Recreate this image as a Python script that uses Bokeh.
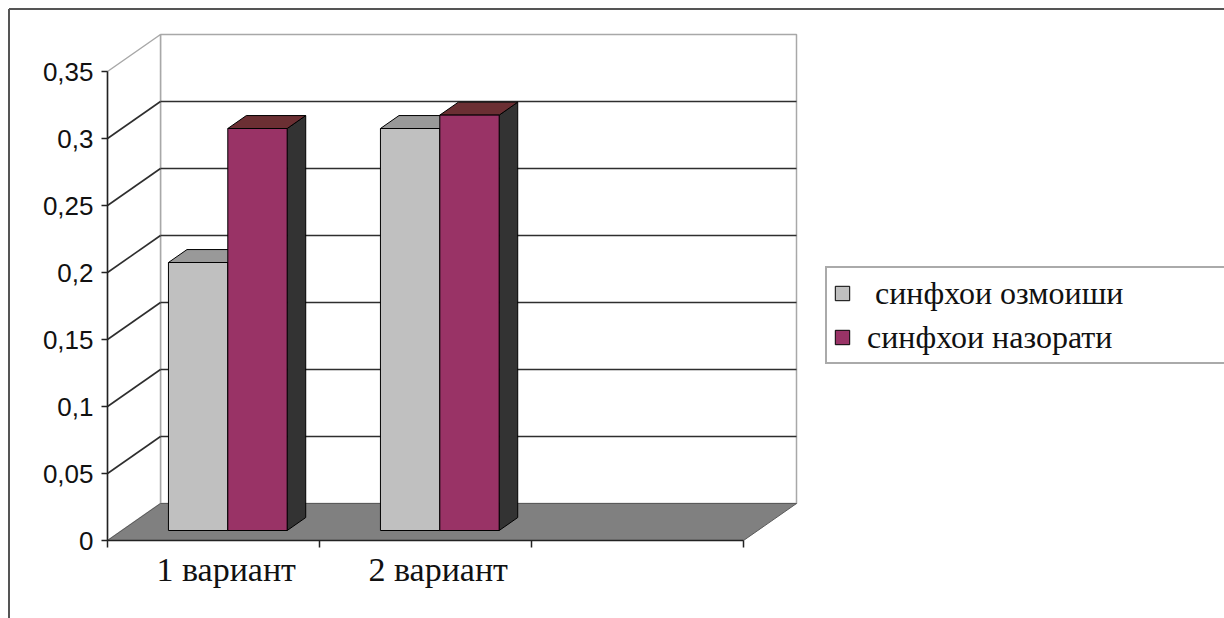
from bokeh.plotting import figure
from bokeh.models import (Range1d, LinearAxis, FixedTicker, CustomJSTickFormatter,
                          Legend, LegendItem)
from bokeh.embed import file_html
from bokeh.resources import INLINE

# ---------------- data ----------------
categories = ["1 вариант", "2 вариант"]
series_names = [" синфхои озмоиши", "синфхои назорати"]
series_a = [0.2, 0.3]
series_b = [0.3, 0.31]
y_ticks = [0, 0.05, 0.1, 0.15, 0.2, 0.25, 0.3, 0.35]
y_tick_labels = ["0", "0,05", "0,1", "0,15", "0,2", "0,25", "0,3", "0,35"]
n_slots = 3  # category slots on the axis (third one empty)

# ---------------- layout / style ----------------
W, H = 1224, 618
PX_C = 212.0          # pixels per category slot
PX_V = 1340.0         # pixels per value unit
AX_X = 107            # px from figure left to the front value axis
AX_Y = 540            # px from figure top to value 0
DX = 53 / PX_C        # depth offset (x) of back wall, in category units
DY = 37 / PX_V        # depth offset (y) of back wall, in value units
BAR_W = 0.28
F0, F1 = 0.27, 0.62   # bar front / back depth fractions
LABEL_SHIFT = 0.56
BORDER = 8            # px inset of the chart-area border

colors_front = ["#C0C0C0", "#993366"]
colors_top = ["#999999", "#6B2F33"]
color_side = "#333333"

xr = Range1d(-AX_X / PX_C, (W - AX_X) / PX_C)
yr = Range1d(-(H - AX_Y) / PX_V, AX_Y / PX_V)

p = figure(width=W, height=H, x_range=xr, y_range=yr,
           x_axis_location=None, y_axis_location=None,
           toolbar_location=None, output_backend="svg",
           min_border=0, min_border_left=0, min_border_right=0,
           min_border_top=0, min_border_bottom=0)
p.outline_line_color = None
p.background_fill_color = "white"
p.border_fill_color = "white"
for g in p.grid:
    g.visible = False

ymax = y_ticks[-1]

# outer chart-area border (left and top edges visible)
bx = xr.start + (BORDER + 0.5) / PX_C
by = yr.end - (BORDER + 0.5) / PX_V
p.segment(x0=[bx, bx], y0=[yr.start, by], x1=[bx, xr.end], y1=[by, by],
          line_color="#555555", line_width=2)

# walls
p.quad(left=[DX], right=[n_slots + DX], bottom=[DY], top=[ymax + DY],
       fill_color="white", line_color="#A8A8A8", line_width=1.5)
p.patch(x=[0, DX, DX, 0], y=[0, DY, ymax + DY, ymax],
        fill_color="white", line_color="#A8A8A8", line_width=1.5)

# gridlines on back and side walls
gv = y_ticks[1:-1]
p.segment(x0=[DX] * len(gv), y0=[v + DY for v in gv],
          x1=[n_slots + DX] * len(gv), y1=[v + DY for v in gv],
          line_color="#2E2E2E", line_width=1.6)
p.segment(x0=[0] * len(gv), y0=gv, x1=[DX] * len(gv), y1=[v + DY for v in gv],
          line_color="#2E2E2E", line_width=1.6)

# floor
p.patch(x=[0, n_slots, n_slots + DX, DX], y=[0, 0, DY, DY],
        fill_color="#808080", line_color="#5A5A5A", line_width=1)

# bars
fronts = []
for s, vals in enumerate([series_a, series_b]):
    ox0, oy0 = F0 * DX, F0 * DY
    ox1, oy1 = F1 * DX, F1 * DY
    left, right, top = [], [], []
    tx, ty, sxs, sys_ = [], [], [], []
    for i, v in enumerate(vals):
        x0 = i + 0.5 - BAR_W + s * BAR_W
        x1 = x0 + BAR_W
        left.append(x0 + ox0)
        right.append(x1 + ox0)
        top.append(v + oy0)
        tx.append([x0 + ox0, x1 + ox0, x1 + ox1, x0 + ox1])
        ty.append([v + oy0, v + oy0, v + oy1, v + oy1])
        sxs.append([x1 + ox0, x1 + ox1, x1 + ox1, x1 + ox0])
        sys_.append([oy0, oy1, v + oy1, v + oy0])
    p.patches(xs=sxs, ys=sys_, fill_color=color_side, line_color="black", line_width=1)
    p.patches(xs=tx, ys=ty, fill_color=colors_top[s], line_color="black", line_width=1)
    r = p.quad(left=left, right=right, bottom=[oy0] * len(vals), top=top,
               fill_color=colors_front[s], line_color="black", line_width=1)
    fronts.append(r)

# value axis
yfmt = CustomJSTickFormatter(args=dict(tvals=y_ticks, tlabels=y_tick_labels), code="""
let best = 0;
for (let j = 1; j < tvals.length; j++) {
  if (Math.abs(tvals[j] - tick) < Math.abs(tvals[best] - tick)) best = j;
}
return tlabels[best];
""")
yaxis = LinearAxis(fixed_location=0, ticker=FixedTicker(ticks=y_ticks), formatter=yfmt,
                   bounds=(0, ymax))
yaxis.axis_line_color = "#222222"
yaxis.axis_line_width = 1.5
yaxis.major_tick_line_color = "#222222"
yaxis.major_tick_line_width = 1.5
yaxis.major_tick_out = 6
yaxis.major_tick_in = 0
yaxis.minor_tick_line_color = None
yaxis.major_label_standoff = 8
yaxis.major_label_text_font = "Liberation Sans"
yaxis.major_label_text_font_size = "26px"
yaxis.major_label_text_color = "#111111"
p.add_layout(yaxis, "left")

# category axis: tick marks
xticks_axis = LinearAxis(fixed_location=0, ticker=FixedTicker(ticks=list(range(n_slots + 1))),
                         formatter=CustomJSTickFormatter(code="return '';"),
                         bounds=(0, n_slots))
xticks_axis.axis_line_color = "#222222"
xticks_axis.axis_line_width = 1.5
xticks_axis.major_tick_line_color = "#222222"
xticks_axis.major_tick_line_width = 1.5
xticks_axis.major_tick_out = 7
xticks_axis.major_tick_in = 0
xticks_axis.minor_tick_line_color = None
p.add_layout(xticks_axis, "below")

# category axis: labels
label_pos = [i + LABEL_SHIFT for i in range(len(categories))]
xlab_axis = LinearAxis(fixed_location=0, ticker=FixedTicker(ticks=label_pos),
                       formatter=CustomJSTickFormatter(args=dict(cats=categories),
                                                       code="return cats[Math.floor(tick)] || '';"))
xlab_axis.axis_line_color = None
xlab_axis.major_tick_line_color = None
xlab_axis.minor_tick_line_color = None
xlab_axis.major_tick_out = 7
xlab_axis.major_tick_in = 0
xlab_axis.major_label_standoff = 3
xlab_axis.major_label_text_font = "Liberation Serif"
xlab_axis.major_label_text_font_size = "34px"
xlab_axis.major_label_text_color = "#111111"
p.add_layout(xlab_axis, "below")

# legend
legend = Legend(items=[LegendItem(label=series_names[k], renderers=[fronts[k]]) for k in range(2)],
                location=(825, 254), margin=0, padding=6, spacing=6,
                glyph_width=18, glyph_height=18, label_standoff=16,
                label_width=420, label_height=38,
                label_text_font="Liberation Serif", label_text_font_size="32px",
                label_text_color="#111111",
                border_line_color="#555555", border_line_width=2,
                background_fill_color="white", background_fill_alpha=1.0)
p.add_layout(legend)

open("out.html", "w").write(file_html(p, INLINE))
